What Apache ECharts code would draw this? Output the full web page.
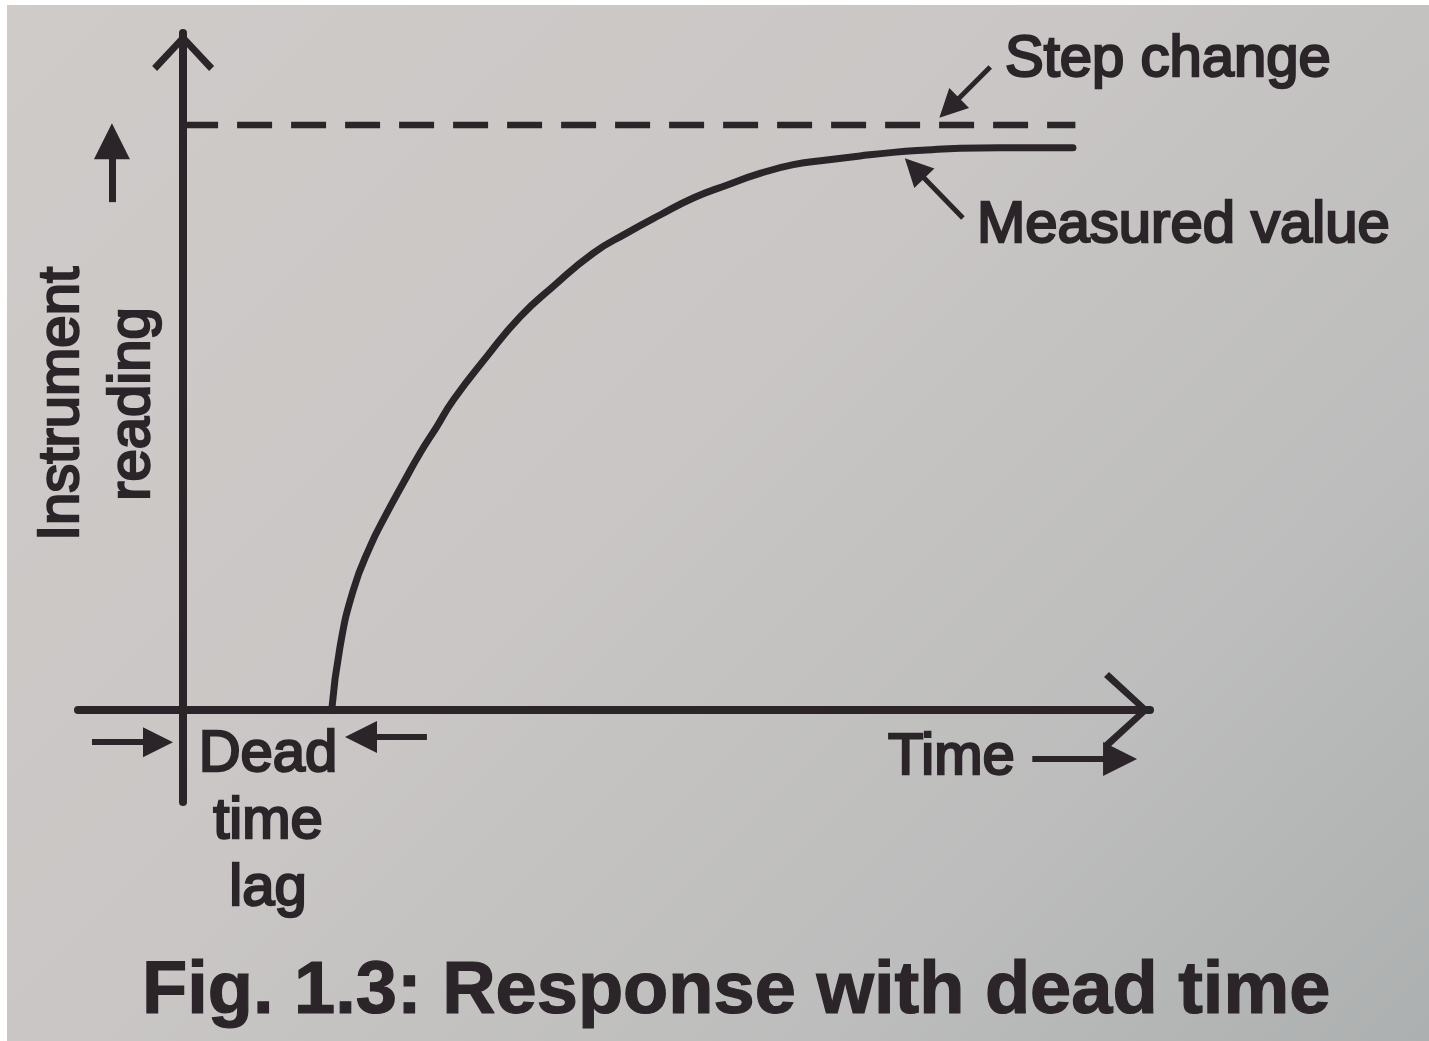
<!DOCTYPE html>
<html>
<head>
<meta charset="utf-8">
<title>Response with dead time</title>
<script src="https://cdn.jsdelivr.net/npm/echarts@6/dist/echarts.min.js"></script>
<style>
  html, body { margin: 0; padding: 0; background: #fff; }
  #chart {
    width: 1429px;
    height: 1041px;
    background: linear-gradient(135deg, #cfcbc9 0%, #c9c6c5 45%, #bcbdbc 75%, #adb0b0 100%) 7px 5px / 1422px 1036px no-repeat, #fff;
  }
</style>
</head>
<body>
<div id="chart"></div>
<script>
const curveTime = [14.14, 14.93, 16.19, 17.78, 19.37, 20.95, 22.54, 24.13, 25.71, 28.89, 32.06, 35.22,
  39.03, 42.21, 45.38, 48.54, 51.72, 54.89, 58.06, 61.24, 64.41, 67.57, 70.75, 73.92, 77.73, 84.67]
const curveReading = [0, 10.8, 20.5, 27.9, 33.6, 38.8, 43.9, 48.4, 53.0, 60.4, 67.2, 72.4,
  78.1, 81.5, 84.6, 87.5, 89.7, 91.7, 93.2, 94.0, 94.7, 95.3, 95.7, 96.0, 96.1, 96.1]

// the step input (dashed)
const stepTime = [0, 84.9]
const stepReading = [100, 100]

// annotation pointers: tail -> head, in the same time / reading units
const pointerFrom = [[76.8, 109.9], [74.2, 84.1], [-8.67, -5.47], [23.2, -4.61], [80.8, -8.37], [-6.77, 86.8]]
const pointerTo = [[72.9, 102.9], [69.6, 92.6], [-2.39, -5.47], [16.93, -4.61], [89.15, -8.37], [-6.77, 97.2]]

const ink = '#2b2529'
const headSize = [28, 28, 30, 32, 34, 36]
const shaftWidth = [5, 5, 6, 6, 6, 7]

const chart = echarts.init(document.getElementById('chart'), null, { renderer: 'canvas' })

const toPairs = (xs, ys) => xs.map((x, i) => [x, ys[i]])

const pointers = pointerFrom.map((from, i) => [
  { coord: from, symbol: 'none', lineStyle: { color: ink, width: shaftWidth[i], type: 'solid' } },
  { coord: pointerTo[i], symbol: 'triangle', symbolSize: headSize[i] }
])

const textStyle = (size, weight, stroke) => ({
  fontFamily: '"Liberation Sans", Arial, sans-serif',
  fontSize: size,
  fontWeight: weight || 'normal',
  fill: ink,
  stroke: ink,
  lineWidth: stroke || 2.4
})

chart.setOption({
  animation: false,
  backgroundColor: 'transparent',
  grid: { left: 78, right: 279, top: 33, bottom: 239 },
  xAxis: {
    type: 'value',
    min: -10,
    max: 92,
    axisLine: {
      onZero: true,
      lineStyle: { color: ink, width: 8 },
      symbol: ['none', 'path://M0,41 L38,0 L76,41 L71,46 L38,9.5 L5,46 Z'],
      symbolSize: [76, 46],
      symbolOffset: [0, -23]
    },
    axisTick: { show: false },
    axisLabel: { show: false },
    splitLine: { show: false }
  },
  yAxis: {
    type: 'value',
    min: -15.7,
    max: 115.7,
    axisLine: {
      onZero: true,
      lineStyle: { color: ink, width: 8 },
      symbol: ['none', 'path://M0,33 L31,0 L62,33 L57,38 L31,10 L5,38 Z'],
      symbolSize: [62, 38],
      symbolOffset: [0, -19]
    },
    axisTick: { show: false },
    axisLabel: { show: false },
    splitLine: { show: false }
  },
  series: [
    {
      name: 'Step change',
      type: 'line',
      data: toPairs(stepTime, stepReading),
      showSymbol: false,
      lineStyle: { color: ink, width: 6.5, type: [35, 19] },
      markLine: {
        silent: true,
        animation: false,
        symbol: ['none', 'triangle'],
        label: { show: false },
        itemStyle: { color: ink },
        data: pointers
      }
    },
    {
      name: 'Measured value',
      type: 'line',
      data: toPairs(curveTime, curveReading),
      showSymbol: false,
      smooth: 0.5,
      lineStyle: { color: ink, width: 7, cap: 'round', join: 'round' }
    }
  ],
  graphic: [
    {
      type: 'text', x: 1005, y: 60,
      style: Object.assign({ text: 'Step change', textAlign: 'left', textVerticalAlign: 'middle' }, textStyle(58))
    },
    {
      type: 'text', x: 977, y: 226,
      style: Object.assign({ text: 'Measured value', textAlign: 'left', textVerticalAlign: 'middle' }, textStyle(58))
    },
    {
      type: 'text', x: 888, y: 758,
      style: Object.assign({ text: 'Time', textAlign: 'left', textVerticalAlign: 'middle' }, textStyle(58))
    },
    {
      type: 'text', x: 268, y: 822,
      style: Object.assign({ text: 'Dead\ntime\nlag', textAlign: 'center', textVerticalAlign: 'middle', lineHeight: 67 }, textStyle(58))
    },
    {
      type: 'text', x: 97, y: 404, rotation: Math.PI / 2,
      style: Object.assign({ text: 'Instrument\nreading', textAlign: 'center', textVerticalAlign: 'middle', lineHeight: 71 }, textStyle(58))
    },
    {
      type: 'text', x: 142, y: 993,
      style: Object.assign({ text: 'Fig. 1.3: Response with dead time', textAlign: 'left', textVerticalAlign: 'middle' }, textStyle(74, 'bold', 1.2))
    }
  ]
})
</script>
</body>
</html>
